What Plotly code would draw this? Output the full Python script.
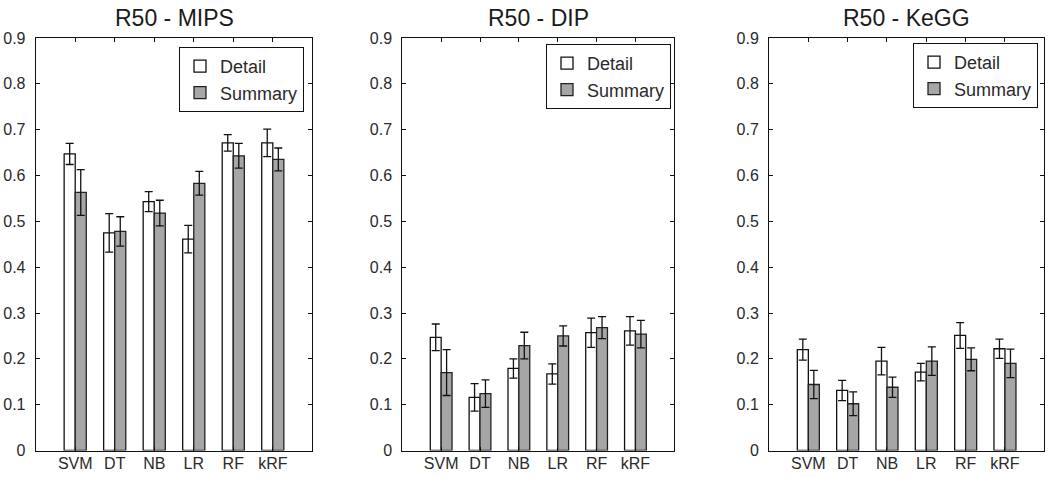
import plotly.graph_objects as go

categories = ["SVM", "DT", "NB", "LR", "RF", "kRF"]
panel_titles = ["R50 - MIPS", "R50 - DIP", "R50 - KeGG"]

mips_detail = [0.647, 0.475, 0.543, 0.461, 0.671, 0.671]
mips_detail_err = [0.023, 0.042, 0.022, 0.030, 0.018, 0.030]
mips_summary = [0.563, 0.478, 0.518, 0.583, 0.643, 0.635]
mips_summary_err = [0.050, 0.032, 0.028, 0.026, 0.027, 0.025]

dip_detail = [0.247, 0.116, 0.179, 0.167, 0.257, 0.261]
dip_detail_err = [0.029, 0.030, 0.021, 0.022, 0.032, 0.031]
dip_summary = [0.170, 0.124, 0.229, 0.250, 0.268, 0.254]
dip_summary_err = [0.050, 0.030, 0.029, 0.022, 0.024, 0.030]

kegg_detail = [0.220, 0.131, 0.195, 0.171, 0.251, 0.222]
kegg_detail_err = [0.023, 0.022, 0.030, 0.019, 0.028, 0.021]
kegg_summary = [0.144, 0.102, 0.138, 0.195, 0.199, 0.190]
kegg_summary_err = [0.031, 0.026, 0.022, 0.031, 0.025, 0.031]

y_ticks = [0, 0.1, 0.2, 0.3, 0.4, 0.5, 0.6, 0.7, 0.8, 0.9]
y_ticktext = ["0", "0.1", "0.2", "0.3", "0.4", "0.5", "0.6", "0.7", "0.8", "0.9"]

panels = [
    (mips_detail, mips_detail_err, mips_summary, mips_summary_err),
    (dip_detail, dip_detail_err, dip_summary, dip_summary_err),
    (kegg_detail, kegg_detail_err, kegg_summary, kegg_summary_err),
]

W, H = 1050, 477
x_doms = [(35.7, 312.3), (402.3, 674.3), (769.0, 1044.3)]
y_top, y_bot = 38.0, 450.5
legend_pos = [(304, 47), (671, 44), (1038, 43)]


def px(x):
    return x / W


def py(y):
    return 1 - y / H


TXT = "#2a2a2a"
FONT = "Liberation Sans, Arial, sans-serif"

fig = go.Figure()
xpos = list(range(1, len(categories) + 1))

for i, (d, de, s, se) in enumerate(panels):
    sfx = "" if i == 0 else str(i + 1)
    leg = "legend" if i == 0 else f"legend{i + 1}"
    fig.add_trace(go.Bar(
        x=xpos, y=d, name="Detail", xaxis="x" + sfx, yaxis="y" + sfx,
        legend=leg, offsetgroup="a",
        marker=dict(color="white", line=dict(color="#111111", width=1.3)),
        error_y=dict(type="data", array=de, color="#111111", thickness=1.3, width=4),
    ))
    fig.add_trace(go.Bar(
        x=xpos, y=s, name="Summary", xaxis="x" + sfx, yaxis="y" + sfx,
        legend=leg, offsetgroup="b",
        marker=dict(color="#a6a6a6", line=dict(color="#222222", width=1.3)),
        error_y=dict(type="data", array=se, color="#111111", thickness=1.3, width=4),
    ))

layout = dict(
    width=W, height=H,
    margin=dict(l=0, r=0, t=0, b=0),
    paper_bgcolor="white", plot_bgcolor="white",
    barmode="group", bargap=0.44, bargroupgap=0,
    font=dict(family=FONT, color=TXT, size=16),
    annotations=[],
)

for i in range(3):
    sfx = "" if i == 0 else str(i + 1)
    x0, x1 = x_doms[i]
    layout["xaxis" + sfx] = dict(
        domain=[px(x0), px(x1)], anchor="y" + sfx, range=[0, 7],
        tickvals=xpos, ticktext=categories, ticks="inside", ticklen=4,
        tickcolor="#111111", showline=True, linecolor="#111111", linewidth=1,
        mirror="ticks", showgrid=False, zeroline=False, fixedrange=True,
        automargin=False, ticklabelstandoff=-2,
        tickfont=dict(size=16, color=TXT, family=FONT),
    )
    layout["yaxis" + sfx] = dict(
        domain=[py(y_bot), py(y_top)], anchor="x" + sfx, range=[0, 0.9],
        tickvals=y_ticks, ticktext=y_ticktext, ticks="inside", ticklen=4,
        tickcolor="#111111", showline=True, linecolor="#111111", linewidth=1,
        mirror="ticks", showgrid=False, zeroline=False,
        automargin=False, ticklabelstandoff=6,
        tickfont=dict(size=16, color=TXT, family=FONT),
    )
    lx, ly = legend_pos[i]
    leg = "legend" if i == 0 else f"legend{i + 1}"
    layout[leg] = dict(
        x=px(lx), y=py(ly), xanchor="right", yanchor="top",
        bordercolor="#111111", borderwidth=1, bgcolor="white",
        font=dict(size=18, color=TXT, family=FONT),
        itemwidth=30, tracegroupgap=0,
    )
    layout["annotations"].append(dict(
        text=panel_titles[i], x=px((x0 + x1) / 2), y=py(18),
        xref="paper", yref="paper", xanchor="center", yanchor="middle",
        showarrow=False, font=dict(size=23, color="#1a1a1a", family=FONT),
    ))

fig.update_layout(**layout)
fig.write_html(
    "out.html",
    config={"displayModeBar": False},
    post_script="document.body.style.margin='0';document.body.style.overflow='hidden';",
)
